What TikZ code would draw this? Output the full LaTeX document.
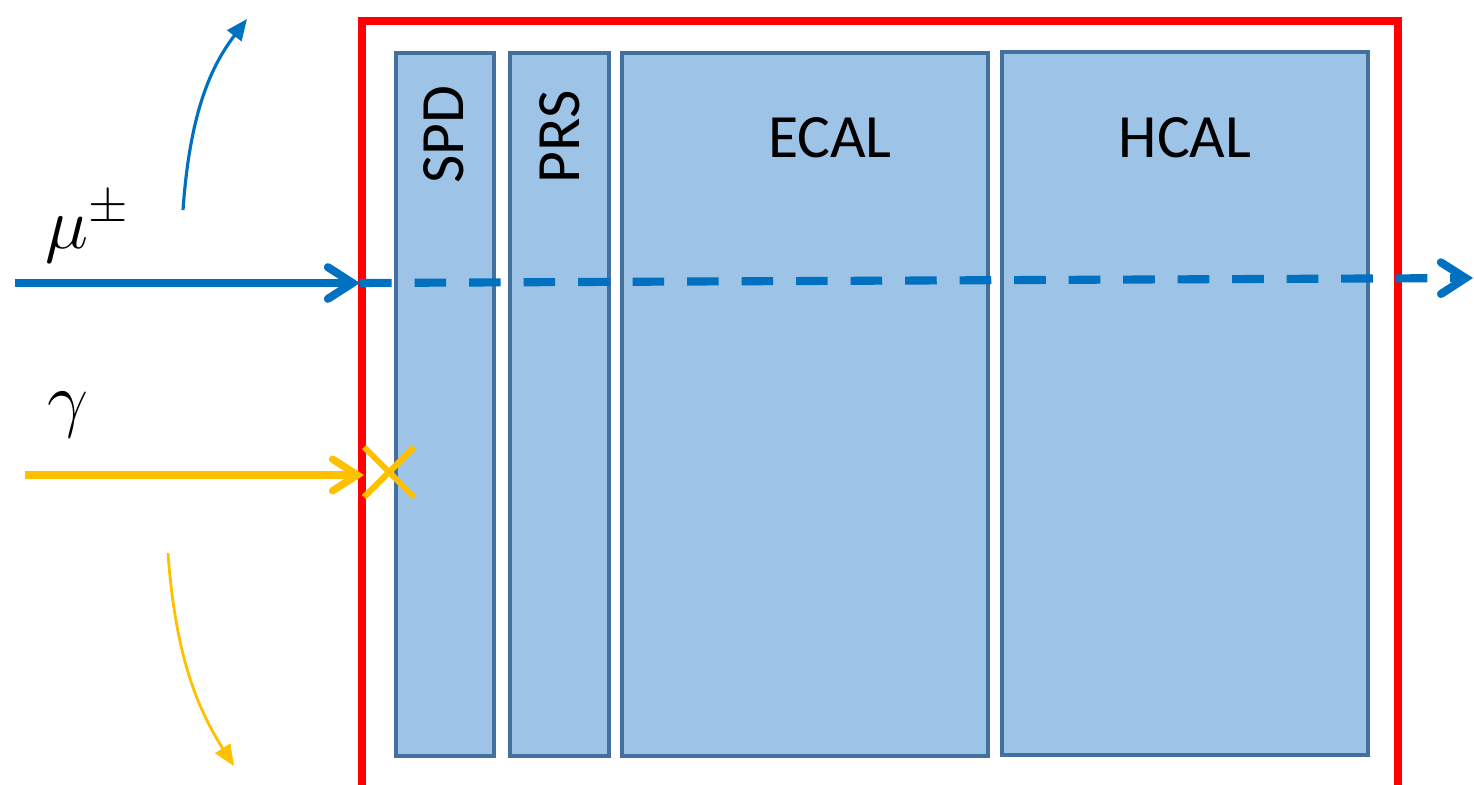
\documentclass[tikz,border=0pt]{standalone}
\usepackage{fontspec}
\setmainfont{Carlito}
\usepackage{tikz}
\usetikzlibrary{arrows.meta,positioning,fit,calc}
\definecolor{CaloFill}{HTML}{9DC3E6}
\definecolor{CaloEdge}{HTML}{41719C}
\definecolor{MuonBlue}{HTML}{0070C0}
\definecolor{GammaGold}{HTML}{FFC000}
\definecolor{FrameRed}{HTML}{FF0000}

\begin{document}
\begin{tikzpicture}[x=0.01cm, y=-0.01cm,
  calobox/.style={draw=CaloEdge, fill=CaloFill, line width=1pt, inner sep=0pt},
  calolabel/.style={font=\fontsize{17.5}{20}\selectfont, inner sep=0pt},
  partlabel/.style={font=\fontsize{21}{25}\selectfont, inner sep=0pt, anchor=base west},
  beam/.style={line width=2.3pt, -{Straight Barb[length=7pt, width=9pt, line cap=round]}},
  deflect/.style={line width=0.9pt, -{Triangle[length=6pt, width=5pt]}}]
  \useasboundingbox (0,0) rectangle (1474,784);
  % calorimeter frame and sub-detectors
  \node[draw=FrameRed, line width=2.3pt, inner sep=0pt, fit={(362,21) (1398,790)}] (calo) {};
  \node[calobox, fit={(396,53) (494,756)}] (spd) {};
  \node[calobox, fit={(510,53) (609,756)}] (prs) {};
  \node[calobox, fit={(622,53) (988,756)}] (ecal) {};
  \node[calobox, fit={(1002,52) (1368,755)}] (hcal) {};
  \node[calolabel, rotate=90, anchor=west] (spdlbl) at (444,184) {SPD};
  \node[calolabel, rotate=90, anchor=west] (prslbl) at (560,184) {PRS};
  \node[calolabel, anchor=base] (ecallbl) at (830,157) {ECAL};
  \node[calolabel, anchor=base] (hcallbl) at (1185,157) {HCAL};
  % muon
  \coordinate (muin) at (15,283);
  \coordinate (muhit) at (360,283);
  \coordinate (muout) at (1473,278);
  \coordinate (mubend) at (183,210);
  \coordinate (muup) at (247,19);
  \node[partlabel] (mulbl) at (45,248) {$\mu^{\pm}$};
  \draw[beam, MuonBlue] (muin) -- (muhit);
  \draw[beam, MuonBlue, dash pattern=on 9pt off 6.5pt] (muhit) -- (muout);
  \draw[deflect, MuonBlue] (mubend) .. controls (190,110) and (212,65) .. (muup);
  % photon
  \coordinate (gin) at (25,475);
  \coordinate (ghit) at (364,475);
  \coordinate (gstop) at (389,472);
  \coordinate (gbend) at (168,553);
  \coordinate (gdown) at (234,766);
  \node[partlabel] (glbl) at (47,423) {$\gamma$};
  \draw[beam, GammaGold, line width=2.1pt] (gin) -- (ghit);
  \draw[GammaGold, line width=1.7pt] ($(gstop)+(-25,-25)$) -- ($(gstop)+(25,25)$)
    ($(gstop)+(-25,25)$) -- ($(gstop)+(25,-25)$);
  \draw[deflect, GammaGold, line width=0.8pt] (gbend) .. controls (175,650) and (195,705) .. (gdown);
\end{tikzpicture}
\end{document}
